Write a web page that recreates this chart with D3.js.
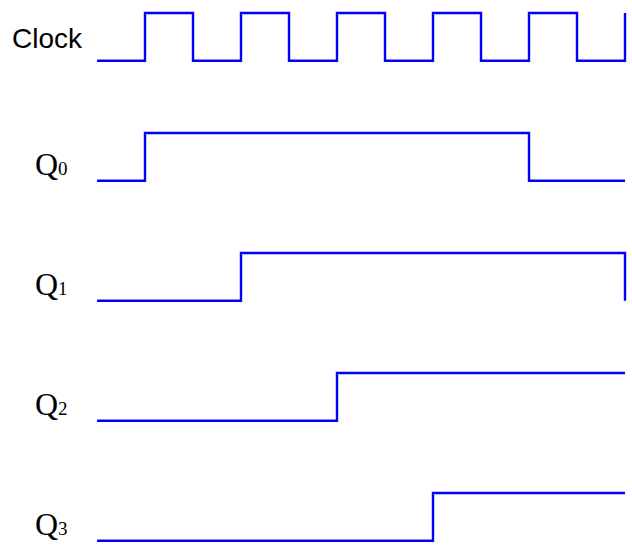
<!DOCTYPE html>
<html>
<head>
<meta charset="utf-8">
<script src="https://cdn.jsdelivr.net/npm/d3@7"></script>
<style>
    html, body { margin: 0; padding: 0; background: #fff; }
</style>
</head>
<body>
<svg id="chart" width="632" height="560"></svg>
<script>
// half clock periods 0..11
const steps = [0, 1, 2, 3, 4, 5, 6, 7, 8, 9, 10, 11];

// signal names and their logic level at each step
const signals = ["Clock", "Q0", "Q1", "Q2", "Q3"];
const clockLevels = [0, 1, 0, 1, 0, 1, 0, 1, 0, 1, 0, 1];
const q0Levels = [0, 1, 1, 1, 1, 1, 1, 1, 1, 0, 0, 0];
const q1Levels = [0, 0, 0, 1, 1, 1, 1, 1, 1, 1, 1, 0];
const q2Levels = [0, 0, 0, 0, 0, 1, 1, 1, 1, 1, 1, 1];
const q3Levels = [0, 0, 0, 0, 0, 0, 0, 1, 1, 1, 1, 1];

const levels = [clockLevels, q0Levels, q1Levels, q2Levels, q3Levels];

const svg = d3.select("#chart");

// x scale: time steps into pixels
const xScale = d3.scaleLinear().domain([0, 11]).range([97, 625]);

// row scale: low line of each signal
const rowScale = d3.scalePoint().domain(signals).range([60.7, 540.7]);

// level scale: offset from low line
const levelScale = d3.scaleLinear().domain([0, 1]).range([0, -47.7]);

const line = d3
    .line()
    .x((d) => xScale(d[0]))
    .y((d) => d[1])
    .curve(d3.curveStepAfter);

// draw each waveform
signals.forEach((name, i) => {
    const data = steps.map((t, j) => [t, rowScale(name) + levelScale(levels[i][j])]);
    svg.append("path")
        .datum(data)
        .attr("d", line)
        .style("fill", "none")
        .style("stroke", "#0000ff")
        .style("stroke-width", 2.4)
        .style("stroke-linejoin", "miter");
});

// Clock label
svg.append("text")
    .attr("x", 12)
    .attr("y", rowScale("Clock") - 12.7)
    .style("font-family", "'Liberation Sans', Arial, sans-serif")
    .style("font-size", "28px")
    .style("fill", "#000")
    .text("Clock");

// Q labels with subscript
signals.slice(1).forEach((name) => {
    const label = svg
        .append("text")
        .attr("x", 35)
        .attr("y", rowScale(name) - 5.7)
        .style("font-family", "'Liberation Serif', 'Times New Roman', serif")
        .style("fill", "#000");
    label.append("tspan").style("font-size", "32px").text("Q");
    label.append("tspan").style("font-size", "19px").text(name.slice(1));
});
</script>
</body>
</html>
